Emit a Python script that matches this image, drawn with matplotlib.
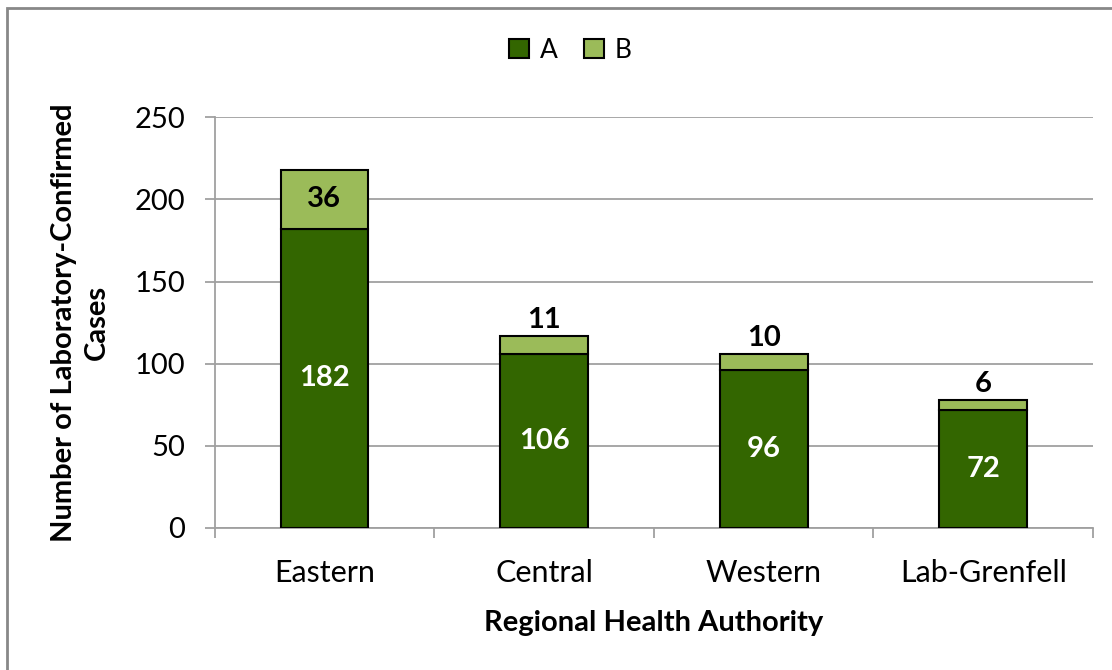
import matplotlib.pyplot as plt
import numpy as np
from matplotlib.patches import Rectangle

# data
regions = ['Eastern', 'Central', 'Western', 'Lab-Grenfell']
flu_a = [182, 106, 96, 72]
flu_b = [36, 11, 10, 6]

dark = '#336600'
light = '#9bbb59'
grid = '#a0a0a0'

plt.rcParams['font.family'] = ['Lato', 'DejaVu Sans']

fig = plt.figure(figsize=(11.12, 6.70), dpi=100)
ax = fig.add_axes([0.193, 0.212, 0.790, 0.613])

x = np.arange(len(regions))
w = 0.4
ax.bar(x, flu_a, w, color=dark, edgecolor='black', linewidth=1.5, label='A', zorder=3)
ax.bar(x, flu_b, w, bottom=flu_a, color=light, edgecolor='black', linewidth=1.5, label='B', zorder=3)

# labels
for i in range(len(regions)):
    ax.text(x[i], flu_a[i] / 2, str(flu_a[i]), ha='center', va='center',
            color='white', fontsize=21, fontweight='bold', zorder=4)
    top = flu_a[i] + flu_b[i]
    if flu_b[i] > 20:
        ax.text(x[i], flu_a[i] + flu_b[i] / 2, str(flu_b[i]), ha='center', va='center',
                color='black', fontsize=21, fontweight='bold', zorder=4)
    else:
        ax.text(x[i], top + 1.5, str(flu_b[i]), ha='center', va='bottom',
                color='black', fontsize=21, fontweight='bold', zorder=4)

ax.set_xlim(-0.5, len(regions) - 0.5)
ax.set_ylim(0, 250)
ax.set_yticks(range(0, 251, 50))
ax.yaxis.grid(True, color=grid, linewidth=1.3, zorder=0)
ax.set_axisbelow(True)

ax.set_xticks(x)
ax.set_xticklabels(regions, fontsize=22)
ax.set_xticks(np.arange(-0.5, len(regions), 1), minor=True)
ax.tick_params(axis='x', which='major', length=0, pad=22)
ax.tick_params(axis='x', which='minor', length=7, color=grid, width=1.3)
ax.tick_params(axis='y', length=7, color=grid, width=1.3, labelsize=21, pad=14)

for s in ['top', 'right']:
    ax.spines[s].set_visible(False)
for s in ['left', 'bottom']:
    ax.spines[s].set_color(grid)
    ax.spines[s].set_linewidth(1.3)

ax.set_xlabel('Regional Health Authority', fontsize=21, fontweight='bold', labelpad=17)
ax.set_ylabel('Number of Laboratory-Confirmed\nCases', fontsize=21, fontweight='bold',
              labelpad=18, linespacing=1.3)

fig.legend(*ax.get_legend_handles_labels(), loc='center',
           bbox_to_anchor=(0.513, 0.925), ncol=2, frameon=False,
           fontsize=19, handlelength=0.75, handleheight=0.75, columnspacing=1.0,
           handletextpad=0.4)
for h in fig.legends[0].legend_handles:
    h.set_edgecolor('black')
    h.set_linewidth(1.5)

# outer chart border (cut off at right and bottom)
fig.patches.append(Rectangle((7 / 1112, -0.1), 1.2, (670 - 8) / 670 + 0.1,
                             transform=fig.transFigure, fill=False,
                             edgecolor='#888888', linewidth=2))

fig.savefig('out.png', dpi=100)
